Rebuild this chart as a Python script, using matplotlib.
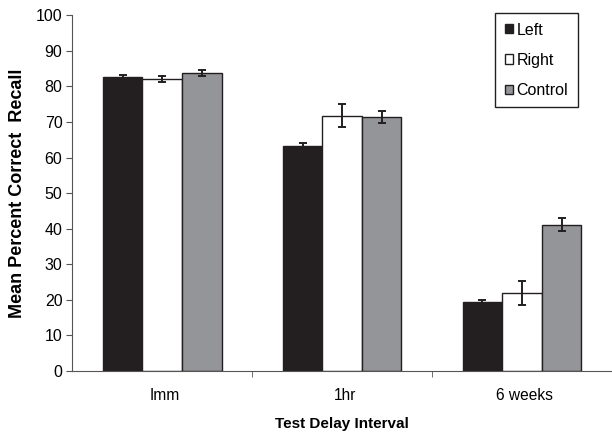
import numpy as np
import matplotlib.pyplot as plt

plt.rcParams['font.family'] = ['Liberation Sans', 'DejaVu Sans']

# Data
intervals = ["Imm", "1hr", "6 weeks"]
groups = ["Left", "Right", "Control"]
left_vals = [82.6, 63.2, 19.3]
right_vals = [82.1, 71.8, 22.0]
control_vals = [83.8, 71.4, 41.1]
left_err = [0.6, 0.9, 0.8]
right_err = [0.9, 3.2, 3.4]
control_err = [0.9, 1.8, 1.8]

colors = ["#231f20", "#ffffff", "#939598"]

fig = plt.figure(figsize=(6.12, 4.32), dpi=100)
ax = fig.add_axes([0.118, 0.141, 0.882, 0.824])

x = np.arange(len(intervals))
w = 0.22
series = [(left_vals, left_err), (right_vals, right_err), (control_vals, control_err)]
for i, (vals, errs) in enumerate(series):
    ax.bar(x + (i - 1) * w, vals, w, color=colors[i], edgecolor="#231f20",
           linewidth=1.0, label=groups[i])
    ax.errorbar(x + (i - 1) * w, vals, yerr=errs, fmt="none", ecolor="#231f20",
                elinewidth=1.4, capsize=2.6, capthick=1.4)

ax.set_xlim(-0.5, 2.5)
ax.set_ylim(0, 100)
ax.set_yticks(range(0, 101, 10))
ax.set_xticks(x + 0.015)
ax.set_xticklabels(intervals, fontsize=11.2)
ax.set_xticks([0.5, 1.5], minor=True)
ax.tick_params(axis="x", which="major", length=0, pad=12)
ax.tick_params(axis="x", which="minor", length=4, direction="out", color="#555555")
ax.tick_params(axis="y", length=4, direction="out", labelsize=11.5, pad=3, color="#555555")

for s in ["top", "right"]:
    ax.spines[s].set_visible(False)
ax.spines["left"].set_color("#555555")
ax.spines["bottom"].set_color("#555555")

ax.set_ylabel("Mean Percent Correct  Recall", fontsize=13, fontweight="bold", labelpad=7)
ax.set_xlabel("Test Delay Interval", fontsize=11, fontweight="bold", labelpad=10)

leg = ax.legend(loc="upper right", bbox_to_anchor=(0.944, 0.970),
                bbox_transform=fig.transFigure, fontsize=11.5,
                handlelength=0.5, handleheight=0.5, handletextpad=0.25,
                labelspacing=0.95, borderpad=0.6, borderaxespad=0,
                fancybox=False, framealpha=1)
leg.get_frame().set_edgecolor("#231f20")
leg.get_frame().set_linewidth(1.0)

fig.savefig("out.png", dpi=100)
